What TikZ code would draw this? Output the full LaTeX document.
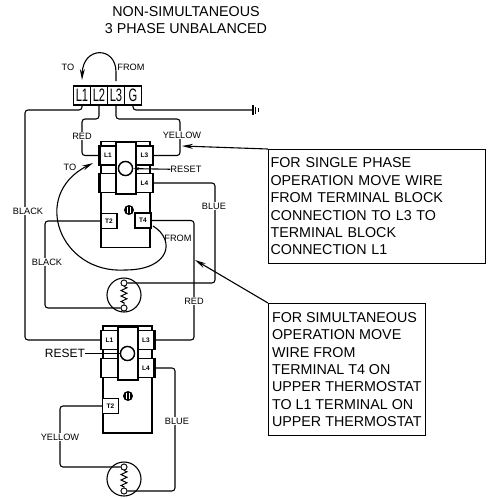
\documentclass[tikz,border=0pt]{standalone}
\usepackage{fontspec}
\setmainfont{Liberation Sans}
\newfontfamily\narrowfont[FakeStretch=0.62]{Liberation Sans}
\usetikzlibrary{arrows.meta,decorations.pathmorphing}
\tikzset{
    wire/.style={line width=1.1pt,rounded corners=3pt},
    lead/.style={line width=1.1pt,-{Stealth[length=11pt,width=5pt]}},
    lbl/.style={font=\fontsize{9.2}{11}\selectfont,fill=white,inner sep=1pt},
    plainlbl/.style={font=\fontsize{9.2}{11}\selectfont,inner sep=0pt},
    body/.style={draw,line width=1.1pt,inner sep=0pt},
    term/.style={draw,fill=white,line width=1.1pt,inner sep=0pt,minimum width=16pt,minimum height=19pt,font=\bfseries\fontsize{6.5}{7}\selectfont},
    tail/.style={draw,fill=white,line width=1.1pt,inner sep=0pt,minimum width=16pt,minimum height=15pt,font=\bfseries\fontsize{6.5}{7}\selectfont},
    block/.style={draw,line width=1.1pt,inner sep=0pt,minimum width=17pt,minimum height=19pt,font=\narrowfont\fontsize{18}{20}\selectfont},
    disc/.style={circle,draw,fill=white,line width=1.3pt,inner sep=0pt,minimum size=14pt},
    heat/.style={circle,draw,line width=1.1pt,inner sep=0pt,minimum size=34pt},
    lug/.style={circle,draw,fill=white,line width=.8pt,inner sep=0pt,minimum size=6pt},
    stud/.style={circle,fill=black,inner sep=0pt,minimum size=10pt,path picture={
        \draw[white,line width=.7pt] ([xshift=-1.4pt,yshift=-3pt]path picture bounding box.center) -- ++(0,-6)
                                     ([xshift=1.4pt,yshift=-3pt]path picture bounding box.center) -- ++(0,-6);}},
    note/.style={draw,line width=1.1pt,anchor=north west,align=left,font=\fontsize{14.3}{17.4}\selectfont},
    edge/.style={line width=2.6pt},
    coil/.style={line width=1pt,decorate,decoration={zigzag,amplitude=3pt,segment length=5.5pt}}
}
\begin{document}
\begin{tikzpicture}[x=1pt,y=-1pt]
    \useasboundingbox (0,0) rectangle (488,499);
    \node[align=center,font=\fontsize{14.3}{17.4}\selectfont] (title) at (186,20) {NON-SIMULTANEOUS\\3 PHASE UNBALANCED};
    % terminal block
    \node[block] (tL1) at (82,95.5)  {L1};
    \node[block] (tL2) at (99,95.5)  {L2};
    \node[block] (tL3) at (116,95.5) {L3};
    \node[block] (tG)  at (133,95.5) {G};
    \node[plainlbl] (to)   at (68,67)  {TO};
    \node[plainlbl] (from) at (131,67) {FROM};
    \coordinate (loopa) at (116,81);
    \coordinate (loopb) at (82,80);
    \coordinate (gnd)   at (253,110);
    % upper thermostat
    \node[body,minimum width=49pt,minimum height=106pt] (uBody) at (125.5,194.5) {};
    \node[body,minimum width=20pt,minimum height=52pt]  (uMid)  at (126,168) {};
    \node[term] (uL1) at (108,155.5) {L1};
    \node[term] (uL3) at (144.5,155.5) {L3};
    \node[term] (uX)  at (108,183) {};
    \node[term] (uL4) at (144.5,183) {L4};
    \node[disc] (uDisc) at (125.5,168.5) {};
    \node[stud] (uStud) at (129,210) {};
    \node[tail] (uT2) at (109,221) {T2};
    \node[tail] (uT4) at (143,220.5) {T4};
    \node[heat] (uHeat) at (124,295) {};
    \node[lug]  (uHa) at (124,283) {};
    \node[lug]  (uHb) at (124,308) {};
    \node[plainlbl,font=\fontsize{9.3}{11}\selectfont] (uReset) at (186,169.5) {RESET};
    % lower thermostat
    \node[body,minimum width=49pt,minimum height=107pt] (lBody) at (127.5,379.5) {};
    \node[body,minimum width=20pt,minimum height=53pt]  (lMid)  at (128,353.5) {};
    \node[term] (lL1) at (109.5,340) {L1};
    \node[term] (lL3) at (146,340) {L3};
    \node[term] (lX)  at (109.5,368) {};
    \node[term] (lL4) at (146,368) {L4};
    \node[disc] (lDisc) at (127.5,353.5) {};
    \node[stud] (lStud) at (128,396) {};
    \node[tail] (lT2) at (110.5,406) {T2};
    \node[heat] (lHeat) at (124,479) {};
    \node[lug]  (lHa) at (124,467) {};
    \node[lug]  (lHb) at (124,491) {};
    \node[inner sep=0pt,font=\fontsize{12}{14}\selectfont] (lReset) at (65,353.5) {RESET};
    % notes
    \node[note,inner xsep=2pt,inner ysep=4pt,text width=213pt,minimum height=114pt] (noteA) at (268,149)
        {FOR SINGLE PHASE\\OPERATION MOVE WIRE\\FROM TERMINAL BLOCK\\CONNECTION TO L3 TO\\TERMINAL BLOCK\\CONNECTION L1};
    \node[note,inner xsep=3.5pt,inner ysep=4pt,minimum height=132pt] (noteB) at (268,303)
        {FOR SIMULTANEOUS\\OPERATION MOVE\\WIRE FROM\\TERMINAL T4 ON\\UPPER THERMOSTAT\\TO L1 TERMINAL ON\\UPPER THERMOSTAT};
    \coordinate (tipA) at (182,146);
    \coordinate (tipB) at (195,260);
    \coordinate (toTip)   at (93,163);
    \coordinate (fromEnd) at (153,226);
    % wires
    \draw[wire] (tL1.south) |- (25,110) |- (lL1.west);
    \draw[wire] (tL2.south) |- (82,119) |- (uL1.west);
    \draw[wire] (tL3.south) |- (180,119) |- (uL3.east);
    \draw[wire] (tG.south)  |- (gnd);
    \draw[line width=1.4pt] ([yshift=-5pt]gnd) -- ([yshift=5pt]gnd);
    \draw[line width=1pt]   ([xshift=2.5pt,yshift=-3.5pt]gnd) -- ([xshift=2.5pt,yshift=3.5pt]gnd);
    \draw[line width=.8pt]  ([xshift=5pt,yshift=-2pt]gnd) -- ([xshift=5pt,yshift=2pt]gnd);
    \draw[wire] (uL4.east) -| (215,283) -- (uHa);
    \draw[wire] (uT4.east) -| (194,340) -- (lL3.east);
    \draw[wire] (uT2.west) -| (45,308) -- (uHb);
    \draw[wire] (lL4.east) -| (175,491) -- (lHb);
    \draw[wire] (lT2.west) -| (60,467) -- (lHa);
    \draw[edge] (uL1.north west) -- (uL1.south west);
    \draw[edge] (uX.north west)  -- (uX.south west);
    \draw[edge] (uL3.north east) -- (uL3.south east);
    \draw[edge] (uL4.north east) -- (uL4.south east);
    \draw[edge] (lL1.north west) -- (lL1.south west);
    \draw[edge] (lX.north west)  -- (lX.south west);
    \draw[edge] (lL3.north east) -- (lL3.south east);
    \draw[edge] (lL4.north east) -- (lL4.south east);
    \node[disc] at (uDisc) {};
    \node[disc] at (lDisc) {};
    \node[lug] at (uHa) {};
    \node[lug] at (uHb) {};
    \node[lug] at (lHa) {};
    \node[lug] at (lHb) {};
    \draw[coil] (uHa) -- (uHb);
    \draw[coil] (lHa) -- (lHb);
    \draw[line width=1.1pt,-{Stealth[length=6pt,width=3pt]}] (uReset) -- (uDisc);
    \draw[line width=1.1pt] (lReset) -- (lDisc);
    % moved links
    \draw[lead] (loopa) -- ++(0,-9) .. controls (116,46) and (83,46) .. (loopb);
    \draw[lead] (fromEnd) .. controls (176,240) and (170,270) .. (125,270) .. controls (60,274) and (30,195) .. (toTip);
    \draw[lead] (noteA.north west) -- (tipA);
    \draw[lead] (noteB.north west) -- (tipB);
    % wire labels
    \node[lbl] (redA)    at (82,136)   {RED};
    \node[lbl] (yellowA) at (182,135)  {YELLOW};
    \node[lbl] (blackA)  at (28,211)   {BLACK};
    \node[lbl] (blueA)   at (214,206)  {BLUE};
    \node[plainlbl] (toB)   at (70,167)  {TO};
    \node[plainlbl] (fromB) at (178,238)  {FROM};
    \node[lbl] (blackB)  at (47,262)   {BLACK};
    \node[lbl] (redB)    at (194,301)  {RED};
    \node[lbl] (blueB)   at (177,421)  {BLUE};
    \node[lbl] (yellowB) at (60,437)   {YELLOW};
\end{tikzpicture}
\end{document}
